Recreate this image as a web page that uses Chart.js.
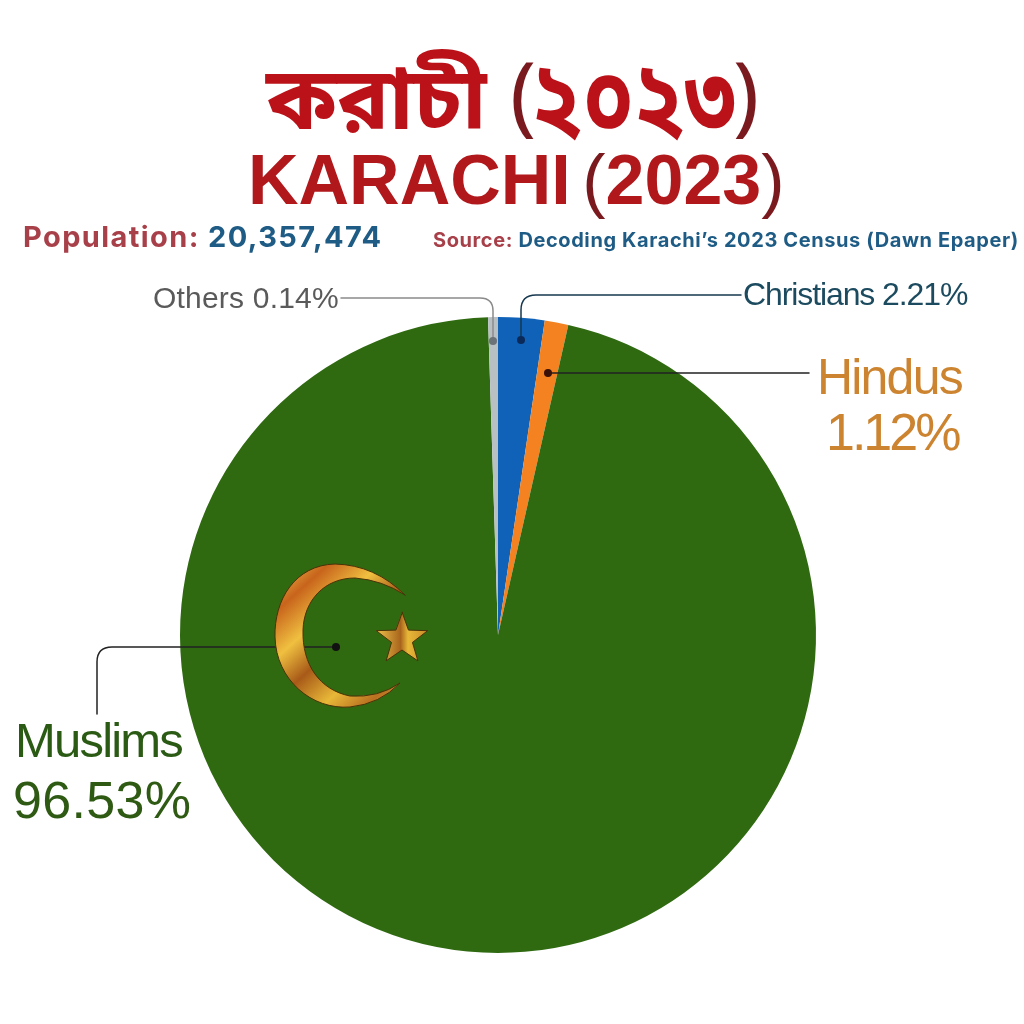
<!DOCTYPE html>
<html>
<head>
<meta charset="utf-8">
<title>Karachi 2023</title>
<script src="https://cdn.jsdelivr.net/npm/chart.js@4"></script>
<style>
    html, body { margin: 0; padding: 0; background: #fff; }
    #wrap { position: relative; width: 1024px; height: 1024px; overflow: hidden; }
    #pie { position: absolute; left: 0; top: 0; }
    .txt { position: absolute; white-space: nowrap; }
    .bn { font: bold 87px 'Noto Sans', 'Noto Sans Bengali', sans-serif; color: #bb1219; }
    .lat { font: bold 70px 'Liberation Sans', sans-serif; color: #b0181c; word-spacing: -8px; }
    .thin { font-weight: 400; color: #7a1a1e; }
    .lab { font-family: 'Liberation Sans', sans-serif; }
</style>
</head>
<body>
<div id="wrap">
    <canvas id="pie" width="1024" height="1024"></canvas>
    <div class="txt bn" style="left:266px;top:36px">করাচী</div>
    <div class="txt bn thin" style="left:510px;top:32px">(</div>
    <div class="txt bn" style="left:531px;top:21px;font-size:84px;transform:scaleY(1.25);transform-origin:left top">২০২৩</div>
    <div class="txt bn thin" style="left:733px;top:32px">)</div>
    <div class="txt lat" style="left:248px;top:140px">KARACHI <span class="thin">(</span>2023<span class="thin">)</span></div>
    <div class="txt" style="left:23px;top:219px;font:bold 29px Inter,sans-serif;color:#a8404a;letter-spacing:1.4px">Population: <span style="color:#1f5c85">20,357,474</span></div>
    <div class="txt" style="left:433px;top:228px;font:bold 20px Inter,sans-serif;color:#a8404a;letter-spacing:0.6px">Source: <span style="color:#1f5c85">Decoding Karachi’s 2023 Census (Dawn Epaper)</span></div>
    <div class="txt lab" style="left:153px;top:281px;font-size:30px;color:#5a5a5a;letter-spacing:0.2px">Others 0.14%</div>
    <div class="txt lab" style="left:743px;top:276px;font-size:32px;color:#1c4a5e;letter-spacing:-1.1px">Christians 2.21%</div>
    <div class="txt lab" style="left:817px;top:348px;font-size:50px;color:#cd8430;letter-spacing:-1.8px">Hindus</div>
    <div class="txt lab" style="left:826px;top:402px;font-size:52px;color:#cd8430;letter-spacing:-3px">1.12%</div>
    <div class="txt lab" style="left:15px;top:712px;font-size:49px;color:#2a5a14;letter-spacing:-1.8px">Muslims</div>
    <div class="txt lab" style="left:13px;top:770px;font-size:52px;color:#2f5a14;letter-spacing:0.3px">96.53%</div>
</div>
<script>
const categories = ['Christians', 'Hindus', 'Muslims', 'Others'];
// wedge sizes as measured on the picture, the small wedges are drawn wider than their printed labels
const wedgeShares = [2.35, 1.2, 95.95, 0.5];
const sliceColors = ['#0f62b8', '#f58220', '#2f6a11', '#b9c0c4'];

// leader lines + crescent and star, drawn on top of the pie
const overlay = {
    id: 'overlay',
    afterDraw(chart) {
        const c = chart.ctx;
        c.save();
        c.lineWidth = 1.5;
        c.lineCap = 'round';
        c.strokeStyle = '#8a8a8a';
        c.beginPath(); c.moveTo(341, 298); c.lineTo(480, 298); c.quadraticCurveTo(493, 298, 493, 311); c.lineTo(493, 340); c.stroke();
        c.strokeStyle = '#16384f';
        c.beginPath(); c.moveTo(741, 295); c.lineTo(536, 295); c.quadraticCurveTo(521, 295, 521, 310); c.lineTo(521, 338); c.stroke();
        c.strokeStyle = '#222';
        c.beginPath(); c.moveTo(809, 373); c.lineTo(550, 373); c.stroke();
        c.beginPath(); c.moveTo(336, 647); c.lineTo(112, 647); c.quadraticCurveTo(97, 647, 97, 662); c.lineTo(97, 714); c.stroke();
        [['#6b7378', 493, 341], ['#0b2a5a', 521, 340], ['#3a1208', 548, 373], ['#111', 336, 647]].forEach(p => {
            c.fillStyle = p[0];
            c.beginPath(); c.arc(p[1], p[2], 4, 0, Math.PI * 2); c.fill();
        });

        // bands run across the crescent like brushed metal
        const gold = c.createLinearGradient(275, 565, 405, 710);
        gold.addColorStop(0, '#f0c850');
        gold.addColorStop(0.18, '#c8641c');
        gold.addColorStop(0.36, '#f0c040');
        gold.addColorStop(0.52, '#a85a18');
        gold.addColorStop(0.7, '#e8b838');
        gold.addColorStop(0.85, '#b87020');
        gold.addColorStop(1, '#e0b040');
        c.fillStyle = gold;
        c.strokeStyle = '#4a3208';
        c.lineWidth = 1;
        c.beginPath();
        c.moveTo(405, 595);
        c.quadraticCurveTo(375, 565, 335, 564);
        c.bezierCurveTo(295, 565, 274, 600, 275, 637);
        c.bezierCurveTo(276, 680, 312, 710, 350, 707);
        c.quadraticCurveTo(380, 704, 400, 683);
        c.quadraticCurveTo(378, 698, 350, 696);
        c.bezierCurveTo(320, 690, 302, 665, 303, 630);
        c.bezierCurveTo(304, 600, 325, 578, 355, 578);
        c.quadraticCurveTo(382, 580, 405, 595);
        c.closePath();
        c.fill();
        c.stroke();

        c.beginPath();
        for (let i = 0; i < 10; i++) {
            const r = i % 2 ? 11 : 27;
            const a = -Math.PI / 2 + i * Math.PI / 5;
            c.lineTo(402 + r * Math.cos(a), 639 + r * Math.sin(a));
        }
        c.closePath();
        const starGold = c.createLinearGradient(378, 0, 428, 0);
        starGold.addColorStop(0, '#e8bc48');
        starGold.addColorStop(0.45, '#a8641c');
        starGold.addColorStop(0.6, '#e8b838');
        starGold.addColorStop(1, '#c88a28');
        c.fillStyle = starGold;
        c.fill();
        c.stroke();
        c.restore();
    }
};

new Chart(document.getElementById('pie').getContext('2d'), {
    type: 'pie',
    data: {
        labels: categories,
        datasets: [{ data: wedgeShares, backgroundColor: sliceColors, borderWidth: 0 }]
    },
    options: {
        responsive: false,
        animation: false,
        layout: { padding: { left: 180, right: 208, top: 317, bottom: 71 } },
        plugins: { legend: { display: false }, tooltip: { enabled: false } }
    },
    plugins: [overlay]
});
</script>
</body>
</html>
